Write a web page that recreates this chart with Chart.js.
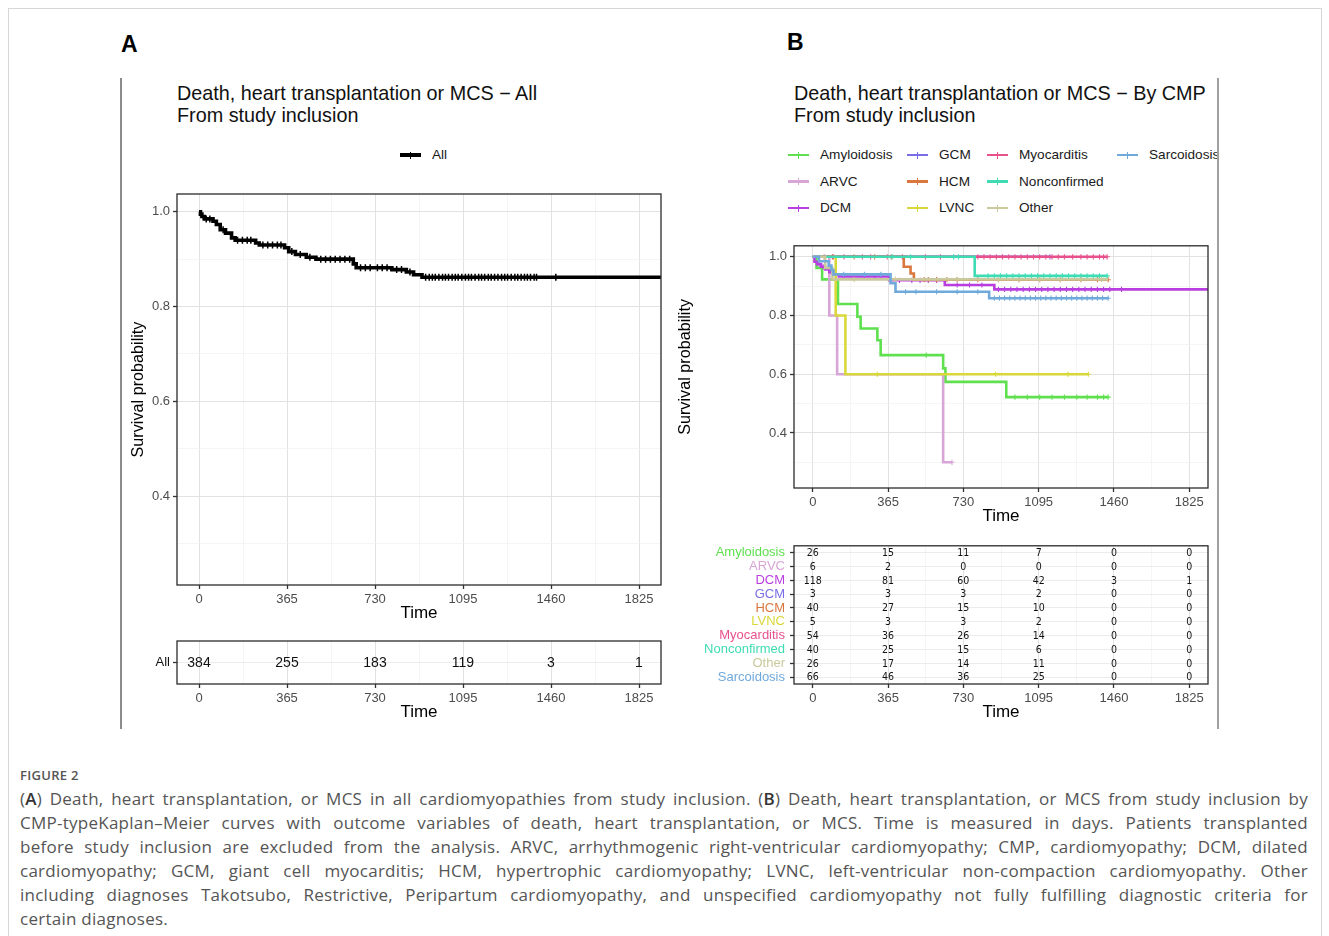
<!DOCTYPE html>
<html><head><meta charset="utf-8">
<script src="https://cdn.jsdelivr.net/npm/chart.js@4.4.1/dist/chart.umd.min.js"></script>
<style>
html,body{margin:0;padding:0;background:#fff;width:1329px;height:936px;overflow:hidden;font-family:'Liberation Sans',Arial,sans-serif;}
.abs{position:absolute;}
canvas{position:absolute;}
.ttl{position:absolute;font-size:19.8px;line-height:22px;color:#111;white-space:nowrap;}
.lg{position:absolute;font-size:13.6px;color:#1a1a1a;white-space:nowrap;line-height:16px;}
.cap{position:absolute;left:20px;width:1288px;font-family:'Open Sans','Noto Sans',sans-serif;font-size:17px;letter-spacing:0.25px;color:#555;}
.cap div{height:24px;line-height:24px;text-align:justify;text-align-last:justify;}
.cap div.last{text-align-last:left;}
.cap b{font-weight:600;color:#333;}
</style></head><body>
<div class="abs" style="left:8px;top:8px;width:1312px;height:960px;border:1px solid #d6d6d6;"></div>
<div class="abs" style="left:120px;top:78px;width:2px;height:651px;background:#8c8c8c;"></div>
<div class="abs" style="left:1217px;top:78px;width:1.5px;height:651px;background:#a0a0a0;"></div>
<div class="abs" style="left:121px;top:31px;font-size:23px;font-weight:bold;color:#000;">A</div>
<div class="abs" style="left:787px;top:29px;font-size:23px;font-weight:bold;color:#000;">B</div>
<div class="ttl" style="left:177px;top:82px;">Death, heart transplantation or MCS − All<br>From study inclusion</div>
<div class="ttl" style="left:794px;top:82px;">Death, heart transplantation or MCS − By CMP<br>From study inclusion</div>
<div id="legB" class="abs" style="left:770px;top:140px;width:447px;height:80px;overflow:hidden;"></div>
<canvas id="cA" width="551" height="444" style="left:129px;top:180px;"></canvas>
<canvas id="rA" width="551" height="93" style="left:129px;top:630px;"></canvas>
<canvas id="cB" width="542" height="292" style="left:676px;top:235px;"></canvas>
<canvas id="rB" width="542" height="190" style="left:676px;top:533px;"></canvas>
<div class="abs" style="left:20px;top:766px;font-family:'Open Sans','Noto Sans',sans-serif;font-size:13px;font-weight:600;color:#555;letter-spacing:0.3px;">FIGURE 2</div>
<div class="cap" style="top:787px;">
<div>(<b>A</b>) Death, heart transplantation, or MCS in all cardiomyopathies from study inclusion. (<b>B</b>) Death, heart transplantation, or MCS from study inclusion by</div>
<div>CMP-typeKaplan–Meier curves with outcome variables of death, heart transplantation, or MCS. Time is measured in days. Patients transplanted</div>
<div>before study inclusion are excluded from the analysis. ARVC, arrhythmogenic right-ventricular cardiomyopathy; CMP, cardiomyopathy; DCM, dilated</div>
<div>cardiomyopathy; GCM, giant cell myocarditis; HCM, hypertrophic cardiomyopathy; LVNC, left-ventricular non-compaction cardiomyopathy. Other</div>
<div>including diagnoses Takotsubo, Restrictive, Peripartum cardiomyopathy, and unspecified cardiomyopathy not fully fulfilling diagnostic criteria for</div>
<div class="last">certain diagnoses.</div>
</div>
<script>
// ---------------- DATA ----------------
const timeTicks = [0, 365, 730, 1095, 1460, 1825];
const survTicks = [0.4, 0.6, 0.8, 1.0];

// Panel A: all patients (step times in days, survival after each step)
const allTimes = [0, 6, 12, 22, 58, 72, 88, 110, 135, 150, 235, 250, 355, 372, 400, 445, 485, 640, 652, 800, 860, 890, 925];
const allSurv  = [1.0, 0.995, 0.99, 0.985, 0.98, 0.973, 0.962, 0.955, 0.945, 0.94, 0.934, 0.93, 0.924, 0.916, 0.91, 0.904, 0.90, 0.89, 0.882, 0.878, 0.873, 0.867, 0.862];
const allEnd = 1916;
const allCensor = [30, 45, 100, 160, 180, 200, 215, 265, 285, 305, 325, 340, 385, 420, 460, 505, 525, 545, 565, 585, 605, 625, 670, 690, 710, 740, 760, 780, 820, 840, 875, 940, 955, 968, 980, 995, 1010, 1022, 1035, 1050, 1063, 1075, 1090, 1105, 1118, 1130, 1145, 1160, 1172, 1185, 1200, 1212, 1226, 1240, 1255, 1268, 1280, 1295, 1310, 1322, 1336, 1350, 1362, 1375, 1390, 1400, 1480];
const allRisk = [384, 255, 183, 119, 3, 1];

// Panel B: by CMP type
const groupNames  = ['Amyloidosis', 'ARVC', 'DCM', 'GCM', 'HCM', 'LVNC', 'Myocarditis', 'Nonconfirmed', 'Other', 'Sarcoidosis'];
const groupColors = ['#5fe04f', '#d7a6d6', '#b93ee0', '#7a6ee8', '#d9773f', '#d9d83a', '#e8528c', '#3fdcb4', '#c9c99c', '#70a9dc'];

const amyloidosisTimes = [0, 18, 45, 122, 216, 232, 313, 329, 632, 643, 938];
const amyloidosisSurv  = [1.0, 0.962, 0.923, 0.839, 0.796, 0.756, 0.716, 0.665, 0.62, 0.574, 0.522];
const amyloidosisEnd = 1432;
const amyloidosisCensor = [550, 980, 1040, 1100, 1160, 1220, 1280, 1330, 1380, 1410, 1432];
const amyloidosisRisk = [26, 15, 11, 7, 0, 0];

const arvcTimes = [0, 80, 118, 632];
const arvcSurv  = [1.0, 0.8, 0.6, 0.3];
const arvcEnd = 675;
const arvcCensor = [675];
const arvcRisk = [6, 2, 0, 0, 0, 0];

const dcmTimes = [0, 8, 20, 40, 60, 80, 100, 126, 370, 640, 880];
const dcmSurv  = [1.0, 0.983, 0.975, 0.966, 0.957, 0.948, 0.94, 0.933, 0.92, 0.904, 0.889];
const dcmEnd = 1916;
const dcmCensor = [30, 50, 90, 150, 200, 250, 300, 330, 420, 480, 520, 560, 600, 700, 760, 820, 900, 930, 960, 990, 1020, 1050, 1080, 1110, 1140, 1170, 1200, 1230, 1260, 1290, 1320, 1350, 1380, 1410, 1440, 1497];
const dcmRisk = [118, 81, 60, 42, 3, 1];

const gcmTimes = [0];
const gcmSurv  = [1.0];
const gcmEnd = 1150;
const gcmCensor = [1150];
const gcmRisk = [3, 3, 3, 2, 0, 0];

const hcmTimes = [0, 441, 474, 490];
const hcmSurv  = [1.0, 0.966, 0.943, 0.922];
const hcmEnd = 1432;
const hcmCensor = [100, 200, 300, 380, 540, 560, 600, 650, 700, 800, 900, 1000, 1100, 1200, 1300, 1380, 1432];
const hcmRisk = [40, 27, 15, 10, 0, 0];

const lvncTimes = [0, 111, 158];
const lvncSurv  = [1.0, 0.8, 0.6];
const lvncEnd = 1336;
const lvncCensor = [313, 886, 1237, 1336];
const lvncRisk = [5, 3, 3, 2, 0, 0];

const myocarditisTimes = [0];
const myocarditisSurv  = [1.0];
const myocarditisEnd = 1427;
const myocarditisCensor = [55, 95, 151, 240, 280, 361, 434, 546, 619, 800, 830, 860, 890, 920, 950, 980, 1010, 1040, 1070, 1100, 1130, 1160, 1190, 1220, 1260, 1300, 1330, 1360, 1390, 1410, 1427];
const myocarditisRisk = [54, 36, 26, 14, 0, 0];

const nonconfirmedTimes = [0, 785];
const nonconfirmedSurv  = [1.0, 0.935];
const nonconfirmedEnd = 1427;
const nonconfirmedCensor = [385, 474, 683, 707, 850, 880, 910, 940, 970, 1000, 1030, 1060, 1090, 1120, 1150, 1180, 1210, 1240, 1270, 1300, 1330, 1360, 1390, 1427];
const nonconfirmedRisk = [40, 25, 15, 6, 0, 0];

const otherTimes = [0, 60, 95];
const otherSurv  = [1.0, 0.962, 0.923];
const otherEnd = 1432;
const otherCensor = [200, 400, 700, 900, 1000, 1100, 1200, 1300, 1400];
const otherRisk = [26, 17, 14, 11, 0, 0];

const sarcoidosisTimes = [0, 30, 77, 90, 100, 377, 401, 855];
const sarcoidosisSurv  = [1.0, 0.985, 0.97, 0.955, 0.94, 0.91, 0.881, 0.859];
const sarcoidosisEnd = 1432;
const sarcoidosisCensor = [150, 250, 330, 450, 500, 600, 700, 800, 880, 905, 930, 955, 980, 1005, 1030, 1055, 1080, 1105, 1130, 1155, 1180, 1205, 1230, 1255, 1280, 1305, 1330, 1355, 1380, 1405, 1432];
const sarcoidosisRisk = [66, 46, 36, 25, 0, 0];

// ---------------- BUILD ----------------
const groupTimes  = [amyloidosisTimes, arvcTimes, dcmTimes, gcmTimes, hcmTimes, lvncTimes, myocarditisTimes, nonconfirmedTimes, otherTimes, sarcoidosisTimes];
const groupSurv   = [amyloidosisSurv, arvcSurv, dcmSurv, gcmSurv, hcmSurv, lvncSurv, myocarditisSurv, nonconfirmedSurv, otherSurv, sarcoidosisSurv];
const groupEnd    = [amyloidosisEnd, arvcEnd, dcmEnd, gcmEnd, hcmEnd, lvncEnd, myocarditisEnd, nonconfirmedEnd, otherEnd, sarcoidosisEnd];
const groupCensor = [amyloidosisCensor, arvcCensor, dcmCensor, gcmCensor, hcmCensor, lvncCensor, myocarditisCensor, nonconfirmedCensor, otherCensor, sarcoidosisCensor];
const groupRisk   = [amyloidosisRisk, arvcRisk, dcmRisk, gcmRisk, hcmRisk, lvncRisk, myocarditisRisk, nonconfirmedRisk, otherRisk, sarcoidosisRisk];

Chart.defaults.font.family = "'Liberation Sans', Arial, sans-serif";
Chart.defaults.animation = false;

const X_MIN = -91.25, X_MAX = 1916.25, Y_MIN = 0.2125, Y_MAX = 1.0375;
const xMinor = timeTicks.slice(0, -1).map((t, i) => (t + timeTicks[i + 1]) / 2);
const xAll = [...timeTicks, ...xMinor].sort((a, b) => a - b);
const yMinor = [survTicks[0] - 0.1, ...survTicks.slice(0, -1).map((v, i) => (v + survTicks[i + 1]) / 2)];
const yAll = [...survTicks, ...yMinor].sort((a, b) => a - b);
const isIn = (arr, v) => arr.some(m => Math.abs(m - v) < 1e-6);

function gridOpts(major) {
  return {
    color: c => (c.tick && isIn(major, c.tick.value)) ? '#e2e2e2' : '#f0f0f0',
    lineWidth: c => (c.tick && isIn(major, c.tick.value)) ? 1 : 0.7,
    tickColor: c => (c.tick && isIn(major, c.tick.value)) ? '#333' : 'rgba(0,0,0,0)',
    tickLength: 4, tickWidth: 1.3, drawTicks: true
  };
}
function xScale(h) {
  return {
    type: 'linear', min: X_MIN, max: X_MAX, bounds: 'data',
    afterBuildTicks: s => { s.ticks = xAll.map(v => ({ value: v })); },
    afterFit: s => { s.height = h; },
    ticks: { autoSkip: false, maxRotation: 0, color: '#4d4d4d', font: { size: 13 }, padding: 3,
      callback: v => isIn(timeTicks, v) ? String(v) : '' },
    grid: gridOpts(timeTicks), border: { display: false },
    title: { display: true, text: 'Time', color: '#000', font: { size: 17 }, padding: 0 }
  };
}
function yScale(w) {
  return {
    type: 'linear', min: Y_MIN, max: Y_MAX, bounds: 'data',
    afterBuildTicks: s => { s.ticks = yAll.map(v => ({ value: v })); },
    afterFit: s => { s.width = w; },
    ticks: { autoSkip: false, color: '#4d4d4d', font: { size: 13 }, padding: 3,
      callback: v => isIn(survTicks, v) ? v.toFixed(1) : '' },
    grid: gridOpts(survTicks), border: { display: false },
    title: { display: true, text: 'Survival probability', color: '#000', font: { size: 16.2 }, padding: 0 }
  };
}
const framePlugin = { id: 'frame', afterDraw(chart) {
  const { ctx, chartArea: a } = chart;
  ctx.save(); ctx.strokeStyle = '#2b2b2b'; ctx.lineWidth = 1.3;
  ctx.strokeRect(a.left, a.top, a.right - a.left, a.bottom - a.top); ctx.restore();
} };
const riskTextPlugin = { id: 'riskText', afterDatasetsDraw(chart, args, opts) {
  const ctx = chart.ctx;
  ctx.save(); ctx.fillStyle = '#111'; ctx.font = opts.font; ctx.textAlign = 'center'; ctx.textBaseline = 'middle';
  chart.data.datasets.forEach((ds, i) => {
    chart.getDatasetMeta(i).data.forEach((pt, j) => ctx.fillText(String(ds.data[j].n), pt.x, pt.y + 0.5));
  });
  ctx.restore();
} };

function survAt(times, surv, t) { let k = 0; for (let i = 0; i < times.length; i++) if (times[i] <= t) k = i; return surv[k]; }
function kmSets(name, color, times, surv, end, censor, width, orderBase, markR, markW) {
  return [{
    type: 'line', label: name, order: orderBase,
    data: [...times.map((t, i) => ({ x: t, y: surv[i] })), { x: end, y: surv[surv.length - 1] }],
    borderColor: color, borderWidth: width, pointRadius: 0, stepped: 'before', fill: false, tension: 0
  }, {
    type: 'scatter', label: name + ' censored', order: orderBase - 1,
    data: censor.map(t => ({ x: t, y: survAt(times, surv, t) })),
    pointStyle: 'cross', pointRadius: markR, pointBorderColor: color, pointBorderWidth: markW,
    pointBackgroundColor: color, borderColor: color
  }];
}
const common = { responsive: false, devicePixelRatio: 1, animation: false, events: [],
  plugins: { legend: { display: false }, tooltip: { enabled: false } } };

// Panel A main
new Chart(document.getElementById('cA'), {
  type: 'line',
  data: { datasets: kmSets('All', '#000', allTimes, allSurv, allEnd, allCensor, 3.6, 2, 3.5, 1.5) },
  options: { ...common, layout: { padding: { top: 14, right: 19, left: 0, bottom: 0 } },
    scales: { x: xScale(39), y: yScale(48) } },
  plugins: [framePlugin]
});

// Risk tables
function riskY(labels, w, colors) {
  return { type: 'category', labels: labels, offset: true,
    afterFit: s => { s.width = w; },
    ticks: { color: colors ? (c => colors[c.index]) : '#111', font: { size: 13 }, padding: colors ? 5 : 3, autoSkip: false },
    grid: { color: '#ececec', lineWidth: 1, tickColor: '#333', tickLength: 4, tickWidth: 1.3, offset: false },
    border: { display: false } };
}
new Chart(document.getElementById('rA'), {
  type: 'scatter',
  data: { datasets: [{ label: 'All', data: timeTicks.map((t, j) => ({ x: t, y: 'All', n: allRisk[j] })), pointRadius: 0 }] },
  options: { ...common, layout: { padding: { top: 11, right: 19, left: 0, bottom: 0 } },
    plugins: { ...common.plugins, riskText: { font: "14px 'Liberation Sans', Arial, sans-serif" } },
    scales: { x: xScale(39), y: riskY(['All'], 48, null) } },
  plugins: [framePlugin, riskTextPlugin]
});

// Panel B main
const setsB = [];
groupNames.forEach((g, i) => {
  setsB.push(...kmSets(g, groupColors[i], groupTimes[i], groupSurv[i], groupEnd[i], groupCensor[i], 2.6, 100 - 2 * i, 2.6, 1.1));
});
new Chart(document.getElementById('cB'), {
  type: 'line',
  data: { datasets: setsB },
  options: { ...common, layout: { padding: { top: 10, right: 10, left: 0, bottom: 0 } },
    scales: { x: xScale(39), y: yScale(118) } },
  plugins: [framePlugin]
});

new Chart(document.getElementById('rB'), {
  type: 'scatter',
  data: { datasets: groupNames.map((g, i) => ({ label: g, data: timeTicks.map((t, j) => ({ x: t, y: g, n: groupRisk[i][j] })), pointRadius: 0 })) },
  options: { ...common, layout: { padding: { top: 10, right: 10, left: 0, bottom: 0 } },
    plugins: { ...common.plugins, riskText: { font: "10.5px 'Liberation Sans Narrow', 'DejaVu Sans Condensed', Arial, sans-serif" } },
    scales: { x: xScale(39), y: riskY(groupNames, 118, groupColors) } },
  plugins: [framePlugin, riskTextPlugin]
});

// Legends (HTML)
function legendItem(parent, x, y, color, text, thick) {
  const ln = document.createElement('div');
  ln.className = 'abs';
  ln.style.cssText = `left:${x}px;top:${y - thick / 2}px;width:21px;height:${thick}px;background:${color};`;
  const tk = document.createElement('div');
  tk.className = 'abs';
  tk.style.cssText = `left:${x + 10}px;top:${y - 3.5}px;width:1px;height:7px;background:${color};`;
  const tx = document.createElement('div');
  tx.className = 'lg';
  tx.style.cssText += `left:${x + 32}px;top:${y - 8}px;`;
  tx.textContent = text;
  parent.appendChild(ln); parent.appendChild(tk); parent.appendChild(tx);
}
legendItem(document.body, 400, 155, '#000', 'All', 3.5);
const legB = document.getElementById('legB');
const colX = [18, 137, 217, 347];
groupNames.forEach((g, i) => {
  legendItem(legB, colX[Math.floor(i / 3)], 15 + 26.5 * (i % 3), groupColors[i], g, 2.6);
});
</script>
</body></html>
